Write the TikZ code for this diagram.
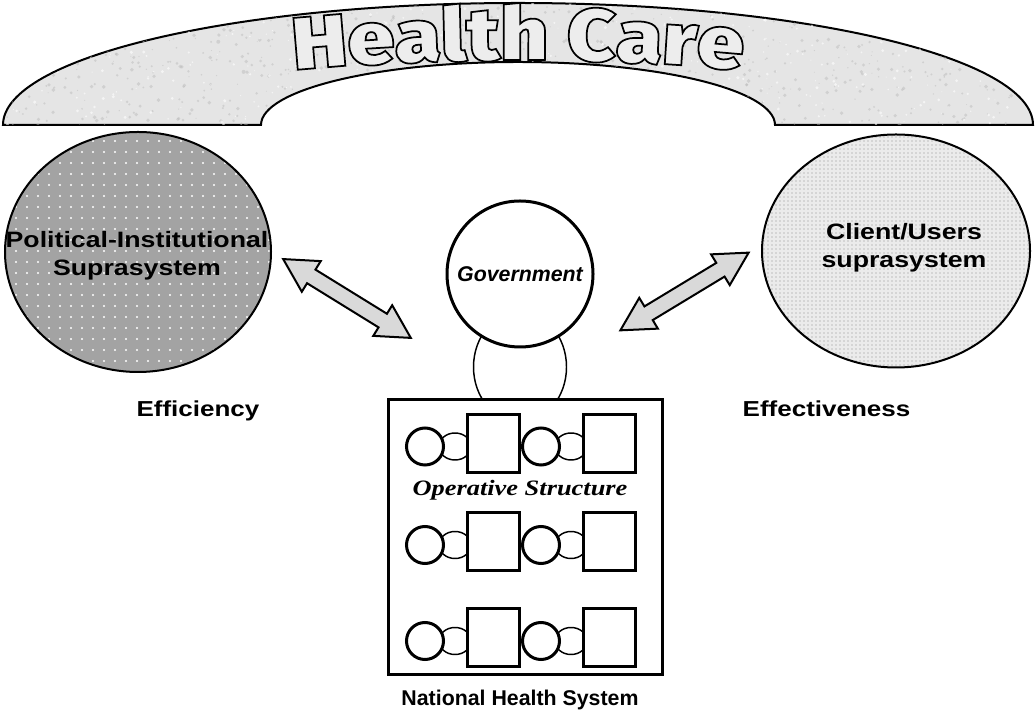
\documentclass[tikz,border=0pt]{standalone}
\usepackage{fontspec}
\setsansfont{Liberation Sans}[FakeStretch=1.2]
\setmainfont{Liberation Serif}[FakeStretch=1.2]
\newfontfamily\govfont{Liberation Sans}
\newfontfamily\archfont{Fira Sans Black}[FakeStretch=1.12]
\usetikzlibrary{shapes.geometric,patterns,decorations.text}

% hollow letters: light fill, black stroke
\newcommand\hcletter[1]{\special{pdf:literal direct 0 G 1.3 w 2 Tr}#1\special{pdf:literal direct 0 Tr}}

\begin{document}
\begin{tikzpicture}[x=0.75pt, y=0.75pt,
    outl/.style={draw, line width=1.5pt},
    bold/.style={draw, line width=2.25pt, fill=white},
    thinring/.style={draw, line width=1.1pt},
    supratext/.style={font=\sffamily\bfseries\fontsize{16.7}{21}\selectfont, align=center},
    tag/.style={font=\sffamily\bfseries\fontsize{16.25}{18}\selectfont, anchor=base},
    blockarrow/.pic={\draw[line width=1.5pt, fill=black!15]
      (-75,0) -- (-42,18) -- (-42,8) -- (42,8) -- (42,18) -- (75,0)
      -- (42,-18) -- (42,-8) -- (-42,-8) -- (-42,-18) -- cycle;}]
  \useasboundingbox (0,0) rectangle (1035,713);

  % arch with the title
  \draw[outl, fill=black!10] (3,588) arc[start angle=180, end angle=0, x radius=515, y radius=122]
    -- (775,588) arc[start angle=0, end angle=180, x radius=257, y radius=63] -- cycle;
  \begin{scope}
    \clip (3,588) arc[start angle=180, end angle=0, x radius=515, y radius=122]
      -- (775,588) arc[start angle=0, end angle=180, x radius=257, y radius=63] -- cycle;
    \pgfmathsetseed{11}
    \foreach \k in {1,...,900}
      \fill[black!28, opacity=.45] (3+rnd*1030, 588+rnd*124) circle[radius=0.5+1.5*rnd];
    \foreach \k in {1,...,500}
      \fill[white, opacity=.6] (3+rnd*1030, 588+rnd*124) circle[radius=0.5+1.2*rnd];
  \end{scope}
  \path[decorate, decoration={text effects along path, text={Health Care}, text align=center,
      text effects/.cd, text along path, character command=\hcletter,
      characters={font=\archfont\fontsize{56}{56}\selectfont, text=black!7, inner sep=0pt}}]
    ([shift={(125:415 and 65)}]518,588) arc[start angle=125, end angle=55, x radius=415, y radius=65];

  % the two suprasystems
  \node[ellipse, outl, fill=black!36, minimum width=266*0.75pt, minimum height=240*0.75pt,
    path picture={\foreach \i in {0,...,25} \foreach \j in {0,...,22}
      \fill[white] ([shift={(\i*11,\j*11)}]path picture bounding box.south west) circle[radius=1.2];}]
    (polsys) at (138,461) {};
  \node[supratext] (polsystxt) at (137,457) {Political-Institutional\\Suprasystem};
  \node[ellipse, outl, preaction={fill=black!8}, pattern=dots, pattern color=black!45,
    minimum width=268*0.75pt, minimum height=233*0.75pt] (client) at (896,462) {};
  \node[supratext] (clienttxt) at (904,465) {Client/Users\\suprasystem};

  \pic[rotate=-31.7] (polarrow) at (347,414.5) {blockarrow};
  \pic[rotate=31.2] (clientarrow) at (684.5,421.5) {blockarrow};

  % government on top of the national health system
  \node[ellipse, thinring, minimum width=93*0.75pt, minimum height=110*0.75pt] (link) at (520,346) {};
  \node[circle, bold, inner sep=0pt, minimum size=146*0.75pt,
    font=\govfont\bfseries\itshape\fontsize{16}{16}\selectfont] (gov) at (520,439) {Government};
  \node[rectangle, bold, minimum width=274*0.75pt, minimum height=275*0.75pt] (nhs) at (525,175.5) {};
  \foreach \r/\cy/\sy in {1/266.5/269, 2/168/171.5, 3/72/75.5}
    \foreach \p in {0,1} {
      \node[ellipse, thinring, minimum width=32*0.75pt, minimum height=27*0.75pt] (l\r\p) at (455+116*\p,\cy) {};
      \node[circle, bold, minimum size=37*0.75pt] (c\r\p) at (425+116*\p,\cy) {};
      \node[rectangle, bold, minimum width=52*0.75pt, minimum height=58*0.75pt] (s\r\p) at (493+116*\p,\sy) {};
    }
  \node[font=\rmfamily\bfseries\itshape\fontsize{16.5}{18}\selectfont] (ops) at (520,223) {Operative Structure};

  \node[tag] (eff) at (198,296) {Efficiency};
  \node[tag] (effv) at (826.5,296) {Effectiveness};
  \node[tag, font=\govfont\bfseries\fontsize{16}{18}\selectfont] (nhslabel) at (520,7) {National Health System};
\end{tikzpicture}
\end{document}
